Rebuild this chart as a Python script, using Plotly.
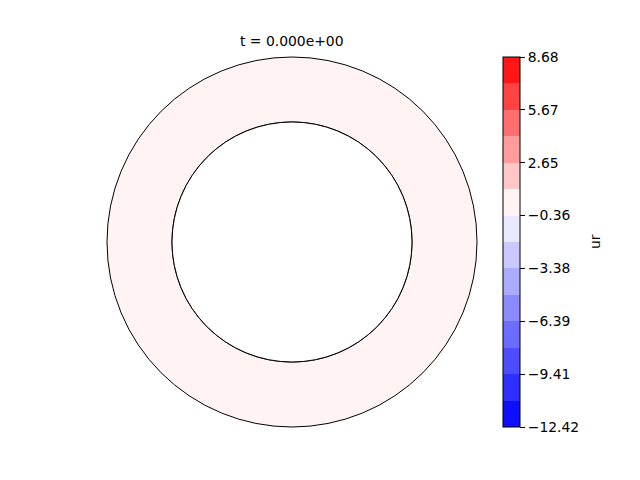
import numpy as np
import plotly.graph_objects as go

# contour levels of the colorbar (ur) and every other one as tick
levels = [-12.42, -10.913, -9.406, -7.899, -6.391, -4.884, -3.377, -1.870,
          -0.363, 1.144, 2.651, 4.159, 5.666, 7.173, 8.68]
tick_vals = [-12.42, -9.406, -6.391, -3.377, -0.363, 2.651, 5.666, 8.68]
tick_text = ["\u221212.42", "\u22129.41", "\u22126.39", "\u22123.38",
             "\u22120.36", "2.65", "5.67", "8.68"]
# bwr colours of the 14 filled bands (two-slope norm centred at 0)
band_colors = ["#0f0fff", "#2e2eff", "#4d4dff", "#6c6cff", "#8b8bff", "#aaaaff",
               "#c9c9ff", "#e8e8ff", "#fff3f3", "#ffc7c7", "#ff9b9b", "#ff6f6f",
               "#ff4242", "#ff1616"]

# field at t = 0 on the annulus
ur_value = 0.0
r_inner = 0.6486   # relative to outer radius
title_text = "t = 0.000e+00"

W, H = 640, 480
OFF = 8            # page body margin of the html
FONT = "DejaVu Sans"


def px(x):
    return (x - OFF) / W


def py(y):
    return 1 - (y - OFF) / H


vmin, vmax = levels[0], levels[-1]
cscale = []
for k, c in enumerate(band_colors):
    cscale.append([(levels[k] - vmin) / (vmax - vmin), c])
    cscale.append([(levels[k + 1] - vmin) / (vmax - vmin), c])
cscale[0][0] = 0.0
cscale[-1][0] = 1.0

fig = go.Figure()

fig.add_trace(go.Barpolar(
    r=[1.0], theta=[0], width=[360], base=[0],
    marker=dict(
        color=[ur_value], colorscale=cscale, cmin=vmin, cmax=vmax,
        line=dict(width=0),
        showscale=True,
        colorbar=dict(
            x=px(503), xanchor="left", xpad=0,
            y=py(242), yanchor="middle", ypad=0,
            len=370, lenmode="pixels", thickness=17,
            outlinecolor="black", outlinewidth=1,
            tickvals=tick_vals, ticktext=tick_text,
            ticks="outside", ticklen=5, tickcolor="black", tickwidth=1,
            tickfont=dict(family=FONT, size=13.9, color="black"),
        ),
    ),
    hoverinfo="skip",
))

# inner boundary circle
th = np.linspace(0, 360, 361)
fig.add_trace(go.Scatterpolar(
    r=np.zeros_like(th), theta=th, mode="lines",
    line=dict(color="black", width=1), cliponaxis=False,
    hoverinfo="skip", showlegend=False,
))

fig.update_layout(
    width=W, height=H,
    paper_bgcolor="white", plot_bgcolor="white",
    margin=dict(l=0, r=0, t=0, b=0),
    showlegend=False,
    font=dict(family=FONT, color="black"),
    polar=dict(
        domain=dict(x=[px(107), px(477)], y=[py(427), py(57)]),
        hole=r_inner,
        bgcolor="white",
        radialaxis=dict(visible=False, range=[0, 1]),
        angularaxis=dict(showline=True, linecolor="black", linewidth=1,
                         showgrid=False, showticklabels=False, ticks=""),
    ),
    annotations=[
        dict(text=title_text, x=px(292), y=py(41), xref="paper", yref="paper",
             xanchor="center", yanchor="middle", showarrow=False,
             font=dict(family=FONT, size=13.9, color="black")),
        dict(text="ur", x=px(595), y=py(242), xref="paper", yref="paper",
             xanchor="center", yanchor="middle", showarrow=False, textangle=-90,
             font=dict(family=FONT, size=13.9, color="black")),
    ],
)

fig.write_html("out.html")
